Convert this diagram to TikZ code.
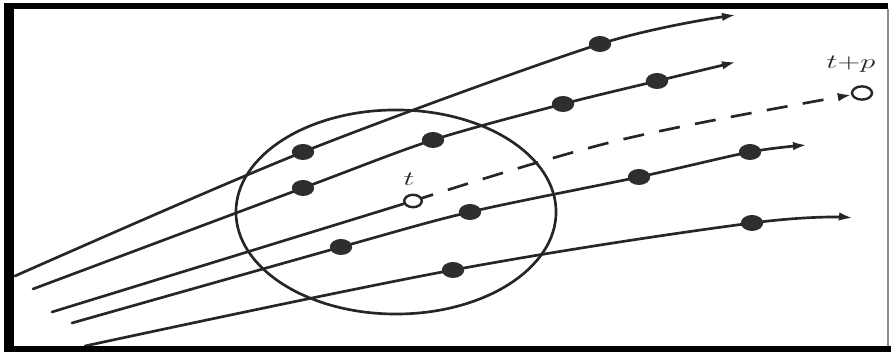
\documentclass[tikz,border=0pt]{standalone}
\usetikzlibrary{shapes.geometric,arrows.meta,backgrounds}
\begin{document}
\begin{tikzpicture}[x=0.025cm,y=0.025cm,
  ink/.style={black!85},
  traj/.style={ink,line width=1.9pt,line cap=round},
  tip/.style={-{Latex[length=10pt,width=6pt]}},
  dot/.style={ellipse,fill=black!82,inner sep=0pt,minimum width=0.56cm,minimum height=0.4cm},
  hollow/.style={ellipse,draw=black!85,fill=white,line width=1.7pt,inner sep=0pt,minimum width=0.44cm,minimum height=0.31cm},
  lbl/.style={font=\fontsize{15}{17}\selectfont,xscale=1.5,ink,inner sep=0pt}]
\useasboundingbox (0,0) rectangle (891,352);
% frame
\fill[black] (4,0) rectangle (14,349);
\fill[black] (4,343) rectangle (888,349);
\fill[black] (4,0) rectangle (891,6);
\draw[black!45,line width=0.8pt] (888,6) -- (888,343);
% start / end points
\coordinate (s1) at (15,76);  \coordinate (e1) at (736,337);
\coordinate (s2) at (33,63);  \coordinate (e2) at (736,290);
\coordinate (s3) at (52,40);  \coordinate (m3) at (620,212);
\coordinate (s4) at (72,29);  \coordinate (e4) at (807,207);
\coordinate (s5) at (85,6);   \coordinate (e5) at (853,134);
% dots
\node[dot] (d11) at (303,200) {};
\node[dot] (d12) at (600,308) {};
\node[dot] (d21) at (303,164) {};
\node[dot] (d22) at (433,212) {};
\node[dot] (d23) at (563,248) {};
\node[dot] (d24) at (657,271) {};
\node[dot] (d41) at (341,105) {};
\node[dot] (d42) at (470,140) {};
\node[dot] (d43) at (639,175) {};
\node[dot] (d44) at (750,200) {};
\node[dot] (d51) at (453,82) {};
\node[dot] (d52) at (752,129) {};
\node[hollow] (t) at (413,151) {};
\node[hollow,minimum width=0.5cm,minimum height=0.33cm] (tp) at (862,259) {};
\node[lbl] (tl) at (409,173) {$t$};
\node[lbl] (tpl) at (851,288) {$t{+}p$};
\begin{scope}[on background layer]
\draw[ink,line width=1.9pt] (396,140) ellipse [x radius=4cm, y radius=2.55cm];
\draw[traj,tip] plot[smooth,tension=0.5] coordinates {(s1) (d11) (d12) (e1)};
\draw[traj,tip] plot[smooth,tension=0.5] coordinates {(s2) (d21) (d22) (d23) (d24) (e2)};
\draw[traj,tip] plot[smooth,tension=0.5] coordinates {(s4) (d41) (d42) (d43) (d44) (e4)};
\draw[traj,tip] plot[smooth,tension=0.6] coordinates {(s5) (d51) (d52) (e5)};
\draw[traj] (s3) -- (t);
\draw[traj,tip,line cap=butt,dash pattern=on 15pt off 11pt,shorten >=0.26cm] plot[smooth,tension=0.6] coordinates {(t) (m3) (tp)};
\end{scope}
\end{tikzpicture}
\end{document}
